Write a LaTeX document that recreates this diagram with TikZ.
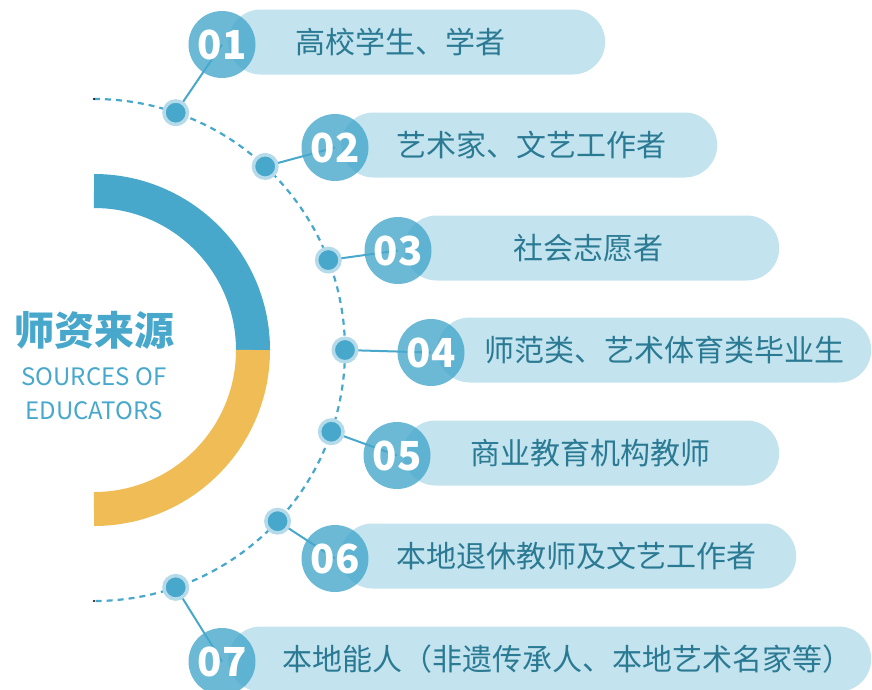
\documentclass[tikz,border=0pt]{standalone}
\usepackage{fontspec}
\setmainfont{Noto Sans CJK SC}
\usetikzlibrary{shapes}
\definecolor{srcblue}{HTML}{47A8CC}
\definecolor{srcyellow}{HTML}{F0BC55}
\definecolor{pillblue}{HTML}{C3E3EE}
\definecolor{dotring}{HTML}{B5DAEA}
\definecolor{itemtext}{HTML}{2B7A94}

\begin{document}
\begin{tikzpicture}[x=1pt, y=-1pt]
  \tikzstyle{ring} = [line width=34pt, draw=srcblue]
  \tikzstyle{track} = [draw=srcblue, line width=2.2pt, dash pattern=on 6pt off 5pt]
  \tikzstyle{bdot} = [circle, fill=srcblue, draw=dotring, line width=3.5pt, minimum size=23.5pt, inner sep=0]
  \tikzstyle{line} = [draw=srcblue, line width=2pt]
  \tikzstyle{pill} = [rectangle, rounded corners=32.5pt, fill=pillblue, minimum height=65pt, anchor=west, inner sep=0]
  \tikzstyle{num} = [circle, fill=srcblue, fill opacity=.8, text opacity=1, text=white, minimum size=67pt, inner sep=0, font=\fontsize{40}{40}\selectfont\bfseries]
  \tikzstyle{item} = [text=itemtext, inner sep=0, font=\fontsize{30}{36}\selectfont]
  \tikzstyle{head} = [text=srcblue, inner sep=0, font=\fontsize{40}{44}\selectfont\bfseries]
  \tikzstyle{sub} = [text=srcblue, inner sep=0, font=\fontsize{24}{28}\selectfont]

  \useasboundingbox (0,0) rectangle (872,689);
  \coordinate (c) at (94,350);

  % half ring and dashed track
  \draw [ring] ([shift={(-90:159)}]c) arc [start angle=-90, end angle=0, radius=159];
  \draw [ring, draw=srcyellow] ([shift={(0:159)}]c) arc [start angle=0, end angle=90, radius=159];
  \draw [track] ([shift={(-90:251)}]c) arc [start angle=-90, end angle=90, radius=251];
  \coordinate (trackA) at ([shift={(-90:251)}]c);
  \coordinate (trackB) at ([shift={(90:251)}]c);
  \fill (trackA) circle (1.2);
  \fill (trackB) circle (1.2);

  % title
  \node [head] (title) at (94,330) {师资来源};
  \node [sub] (title-en1) at (94,377) {SOURCES OF};
  \node [sub] (title-en2) at (94,411) {EDUCATORS};

  % Place nodes
  \coordinate (c1) at (222,44.5);
  \coordinate (c2) at (335,147.5);
  \coordinate (c3) at (398,250.5);
  \coordinate (c4) at (431,352.5);
  \coordinate (c5) at (397,455.5);
  \coordinate (c6) at (335,558.5);
  \coordinate (c7) at (222,661.5);

  \path [line] ([shift={(-71:251)}]c) -- (c1);
  \path [line] ([shift={(-47:251)}]c) -- (c2);
  \path [line] ([shift={(-21:251)}]c) -- (c3);
  \path [line] ([shift={(0:251)}]c) -- (c4);
  \path [line] ([shift={(19:251)}]c) -- (c5);
  \path [line] ([shift={(43:251)}]c) -- (c6);
  \path [line] ([shift={(71:251)}]c) -- (c7);

  \node [bdot] (d1) at ([shift={(-71:251)}]c) {};
  \node [bdot] (d2) at ([shift={(-47:251)}]c) {};
  \node [bdot] (d3) at ([shift={(-21:251)}]c) {};
  \node [bdot] (d4) at ([shift={(0:251)}]c) {};
  \node [bdot] (d5) at ([shift={(19:251)}]c) {};
  \node [bdot] (d6) at ([shift={(43:251)}]c) {};
  \node [bdot] (d7) at ([shift={(71:251)}]c) {};

  \node [pill, minimum width=377pt] (p1) at (228,42) {};
  \node [pill, minimum width=376pt] (p2) at (341,145) {};
  \node [pill, minimum width=375pt] (p3) at (404,248) {};
  \node [pill, minimum width=434pt] (p4) at (437,350) {};
  \node [pill, minimum width=376pt] (p5) at (403,453) {};
  \node [pill, minimum width=456pt] (p6) at (340,556) {};
  \node [pill, minimum width=643pt] (p7) at (228,659) {};

  \node [num] (n1) at (c1) {01};
  \node [num] (n2) at (c2) {02};
  \node [num] (n3) at (c3) {03};
  \node [num] (n4) at (c4) {04};
  \node [num] (n5) at (c5) {05};
  \node [num] (n6) at (c6) {06};
  \node [num] (n7) at (c7) {07};

  \node [item] (t1) at (400,42) {高校学生、学者};
  \node [item] (t2) at (531,145) {艺术家、文艺工作者};
  \node [item] (t3) at (588,248) {社会志愿者};
  \node [item] (t4) at (664,350) {师范类、艺术体育类毕业生};
  \node [item] (t5) at (590,453) {商业教育机构教师};
  \node [item] (t6) at (576,556) {本地退休教师及文艺工作者};
  \node [item] (t7) at (567,659) {本地能人（非遗传承人、本地艺术名家等）};
\end{tikzpicture}
\end{document}
